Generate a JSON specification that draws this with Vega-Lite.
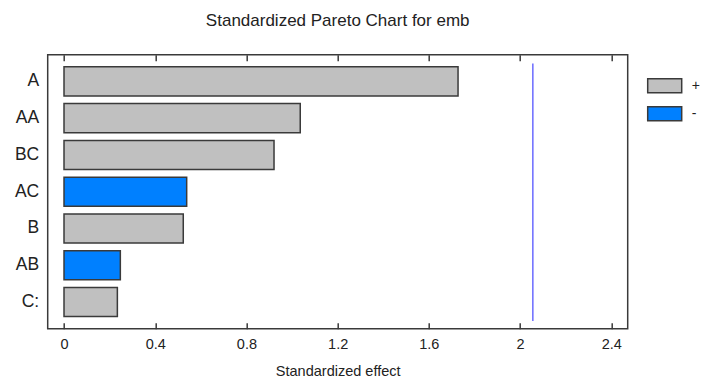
{
  "$schema": "https://vega.github.io/schema/vega-lite/v6.json",
  "autosize": "none",
  "width": 580,
  "height": 274,
  "padding": {"left": 47.7, "top": 54.7, "right": 73.3, "bottom": 52.3},
  "background": "white",
  "title": {
    "text": "Standardized Pareto Chart for emb",
    "font": "Liberation Sans",
    "fontSize": 17,
    "fontWeight": "normal",
    "color": "#222222",
    "anchor": "middle",
    "offset": 24
  },
  "config": {
    "view": {"stroke": "#3a3a3a", "strokeWidth": 1.5},
    "axis": {"grid": false}
  },
  "datasets": {
    "effects": [
      {"term": "A", "effect": 1.728, "sign": "+"},
      {"term": "AA", "effect": 1.036, "sign": "+"},
      {"term": "BC", "effect": 0.921, "sign": "+"},
      {"term": "AC", "effect": 0.538, "sign": "-"},
      {"term": "B", "effect": 0.523, "sign": "+"},
      {"term": "AB", "effect": 0.247, "sign": "-"},
      {"term": "C:", "effect": 0.234, "sign": "+"}
    ],
    "critical": [{"limit": 2.056}]
  },
  "layer": [
    {
      "data": {"name": "effects"},
      "mark": {"type": "bar", "stroke": "#3a3a3a", "strokeWidth": 1.5},
      "encoding": {
        "y": {
          "field": "term",
          "type": "nominal",
          "sort": null,
          "scale": {"paddingInner": 0.21, "paddingOuter": 0.33},
          "axis": {
            "title": null,
            "ticks": false,
            "domain": false,
            "labelPadding": 9,
            "labelFont": "Liberation Sans",
            "labelFontSize": 17.5,
            "labelColor": "#222222"
          }
        },
        "x": {
          "field": "effect",
          "type": "quantitative",
          "scale": {"domain": [-0.0715, 2.472], "nice": false, "zero": false},
          "axis": {
            "orient": "bottom",
            "title": "Standardized effect",
            "values": [0, 0.4, 0.8, 1.2, 1.6, 2, 2.4],
            "format": "~g",
            "domain": false,
            "tickSize": -6,
            "tickColor": "#3a3a3a",
            "tickWidth": 1.5,
            "labelPadding": 15,
            "labelFont": "Liberation Sans",
            "labelFontSize": 14.5,
            "labelColor": "#222222",
            "titleFont": "Liberation Sans",
            "titleFontSize": 14.5,
            "titleFontWeight": "normal",
            "titleColor": "#222222",
            "titlePadding": 13
          }
        },
        "x2": {"datum": 0},
        "fill": {
          "field": "sign",
          "type": "nominal",
          "scale": {"domain": ["+", "-"], "range": ["#c0c0c0", "#0080ff"]},
          "legend": {
            "title": null,
            "orient": "none",
            "legendX": 599,
            "legendY": 13,
            "symbolType": "M-1,-0.41H1V0.41H-1Z",
            "symbolSize": 1156,
            "symbolStrokeColor": "#3a3a3a",
            "symbolStrokeWidth": 1.5,
            "symbolOpacity": 1,
            "labelFont": "Liberation Sans",
            "labelFontSize": 14,
            "labelColor": "#222222",
            "labelOffset": 9,
            "rowPadding": -18
          }
        }
      }
    },
    {
      "data": {"name": "critical"},
      "mark": {"type": "rule", "color": "#6b6bff", "strokeWidth": 1.5},
      "encoding": {
        "x": {
          "field": "limit",
          "type": "quantitative",
          "scale": {"domain": [-0.0715, 2.472], "nice": false, "zero": false},
          "axis": {
            "orient": "top",
            "title": null,
            "labels": false,
            "domain": false,
            "values": [0, 0.4, 0.8, 1.2, 1.6, 2, 2.4],
            "tickSize": -6,
            "tickColor": "#3a3a3a",
            "tickWidth": 1.5
          }
        },
        "y": {"datum": 0.968, "type": "quantitative", "scale": {"domain": [0, 1]}, "axis": null},
        "y2": {"datum": 0.028}
      }
    }
  ],
  "resolve": {"scale": {"y": "independent"}, "axis": {"x": "independent"}}
}
